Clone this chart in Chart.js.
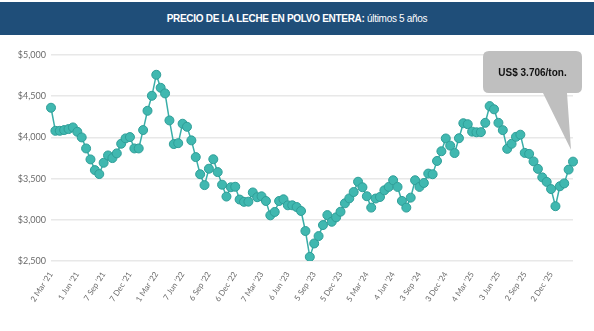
<!DOCTYPE html>
<html>
<head>
<meta charset="utf-8">
<script src="https://cdn.jsdelivr.net/npm/chart.js@4"></script>
<style>
  html, body { margin: 0; padding: 0; background: #fff; }
  body { width: 594px; height: 331px; position: relative; overflow: hidden; }
  .title {
    position: absolute; left: 0; top: 2px; width: 594px; height: 33px;
    background: #1f4e79; color: #fff; text-align: center;
    font-family: 'Liberation Sans', Arial, sans-serif;
    font-size: 10px; letter-spacing: -0.3px; line-height: 33px;
  }
  .title b { font-weight: bold; }
  .wrap { position: absolute; left: 0; top: 36px; width: 594px; height: 295px; }
</style>
</head>
<body>
<div class="title"><b>PRECIO DE LA LECHE EN POLVO ENTERA:</b> últimos 5 años</div>
<div class="wrap"><canvas id="c"></canvas></div>
<script>
// tick labels, one every 6 auctions
const tickLabels = ["2 Mar '21", "1 Jun '21", "7 Sep '21", "7 Dec '21", "1 Mar '22", "7 Jun '22",
    "6 Sep '22", "6 Dec '22", "7 Mar '23", "6 Jun '23", "5 Sep '23", "5 Dec '23", "5 Mar '24",
    "4 Jun '24", "3 Sep '24", "3 Dec '24", "4 Mar '25", "3 Jun '25", "2 Sep '25", "2 Dec '25"];

// whole milk powder price, US$/ton
const wmpPrice = [
    4360, 4080, 4080, 4089, 4101, 4121, 4068, 4000, 3866, 3733,
    3603, 3555, 3692, 3781, 3749, 3806, 3923, 3988, 4004, 3866,
    3866, 4089, 4323, 4505, 4760, 4602, 4534, 4206, 3919, 3930,
    4166, 4129, 3964, 3761, 3553, 3421, 3620, 3735, 3579, 3426,
    3282, 3395, 3401, 3246, 3218, 3220, 3332, 3274, 3285, 3228,
    3054, 3095, 3228, 3249, 3176, 3176, 3155, 3107, 2864, 2550,
    2713, 2802, 2936, 3057, 2976, 3030, 3098, 3200, 3260, 3337,
    3462, 3395, 3286, 3148, 3258, 3277, 3358, 3399, 3480, 3399,
    3229, 3148, 3269, 3480, 3399, 3447, 3561, 3553, 3714, 3832,
    3987, 3900, 3810, 3990, 4172, 4160, 4070, 4062, 4064, 4177,
    4380, 4341, 4177, 4088, 3861, 3922, 4007, 4033, 3812, 3800,
    3709, 3618, 3515, 3460, 3373, 3165, 3407, 3442, 3609, 3706
];

const calloutText = "US$ 3.706/ton.";

let categories = wmpPrice.map((v, i) => (i % 6 === 0 && tickLabels[i / 6]) ? tickLabels[i / 6] : '');

const callout = {
    id: 'callout',
    afterDatasetsDraw(chart) {
        let ctx = chart.ctx;
        let meta = chart.getDatasetMeta(0);
        let last = meta.data[meta.data.length - 1];
        let area = chart.chartArea;
        let bx = area.right - 90, by = area.top - 4, bw = 99, bh = 42, r = 6;
        ctx.save();
        ctx.fillStyle = '#bfbfbf';
        ctx.beginPath();
        ctx.moveTo(bx + r, by);
        ctx.lineTo(bx + bw - r, by);
        ctx.quadraticCurveTo(bx + bw, by, bx + bw, by + r);
        ctx.lineTo(bx + bw, by + bh - r);
        ctx.quadraticCurveTo(bx + bw, by + bh, bx + bw - r, by + bh);
        ctx.lineTo(bx + 84, by + bh);
        ctx.lineTo(last.x - 2, last.y - 12);
        ctx.lineTo(bx + 60, by + bh);
        ctx.lineTo(bx + r, by + bh);
        ctx.quadraticCurveTo(bx, by + bh, bx, by + bh - r);
        ctx.lineTo(bx, by + r);
        ctx.quadraticCurveTo(bx, by, bx + r, by);
        ctx.closePath();
        ctx.fill();
        ctx.fillStyle = '#111';
        ctx.font = 'bold 10px "Liberation Sans", Arial, sans-serif';
        ctx.textAlign = 'center';
        ctx.textBaseline = 'middle';
        ctx.fillText(calloutText, bx + bw / 2, by + 22);
        ctx.restore();
    }
};

new Chart(document.getElementById('c'), {
    type: 'line',
    data: {
        labels: categories,
        datasets: [{
            label: 'WMP',
            data: wmpPrice,
            borderColor: '#3aaea8',
            borderWidth: 1.5,
            backgroundColor: '#40b8b0',
            pointBackgroundColor: '#40b8b0',
            pointBorderColor: '#2f9e98',
            pointBorderWidth: 1,
            pointRadius: 4.5,
            tension: 0,
            fill: false,
        }],
    },
    options: {
        responsive: true,
        maintainAspectRatio: false,
        animation: false,
        layout: { padding: { top: 19, right: 21, left: 0, bottom: 0 } },
        plugins: {
            legend: { display: false },
            tooltip: { enabled: false },
        },
        scales: {
            x: {
                offset: false,
                grid: { display: false, drawTicks: false },
                border: { display: false },
                ticks: {
                    autoSkip: false,
                    minRotation: 57,
                    maxRotation: 57,
                    padding: 9,
                    color: '#6b6b6b',
                    font: { family: 'Lato', size: 8 },
                },
                afterFit: (s) => { s.height = 70; },
            },
            y: {
                min: 2500,
                max: 5000,
                grid: { color: '#e8e8e8', lineWidth: 1.5, drawTicks: false },
                border: { display: false },
                ticks: {
                    stepSize: 500,
                    padding: 5,
                    color: '#6b6b6b',
                    font: { family: 'Lato', size: 9 },
                    callback: (v) => '$' + v.toLocaleString('en-US'),
                },
                afterFit: (s) => { s.width = 51; },
            },
        },
    },
    plugins: [callout],
});
</script>
</body>
</html>
